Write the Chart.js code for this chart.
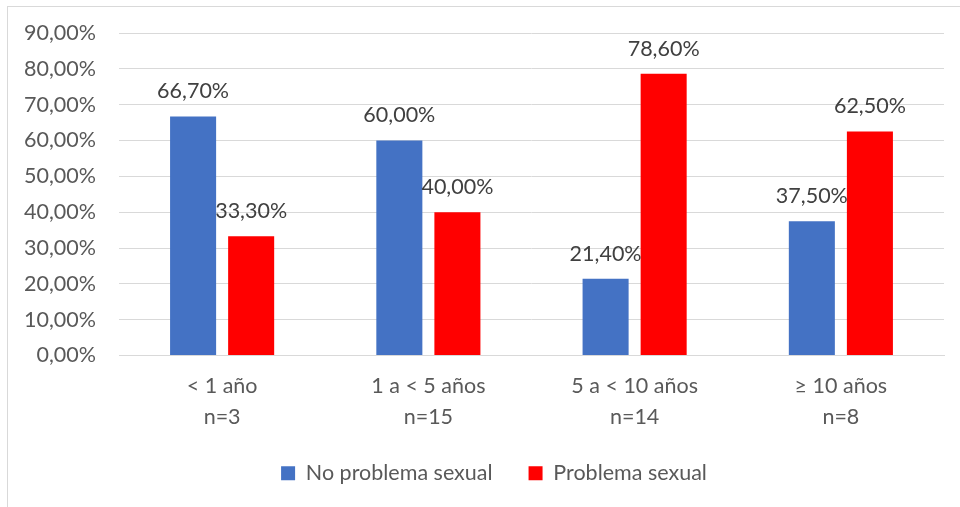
<!DOCTYPE html>
<html>
<head>
<meta charset="utf-8">
<script src="https://cdn.jsdelivr.net/npm/chart.js@4.4.1/dist/chart.umd.min.js"></script>
<style>
  html, body { margin: 0; padding: 0; background: #fff; overflow: hidden; }
  #frame {
    position: absolute; left: 7px; top: 6px;
    width: 972px; height: 510px;
    border: 1px solid #d9d9d9;
  }
  #chart { display: block; }
</style>
</head>
<body>
<div id="frame"><canvas id="chart" width="972" height="501"></canvas></div>
<script>
const categories = [["< 1 año", "n=3"], ["1 a < 5 años", "n=15"], ["5 a < 10 años", "n=14"], ["≥ 10 años", "n=8"]];
const seriesNames = ["No problema sexual", "Problema sexual"];
const noProblema = [66.7, 60.0, 21.4, 37.5];
const problema = [33.3, 40.0, 78.6, 62.5];
const yTicks = [0, 10, 20, 30, 40, 50, 60, 70, 80, 90];

const FONT = "Lato, 'Open Sans', sans-serif";
const SIZE = 21.5;
const fmt = (v) => v.toFixed(2).replace(".", ",") + "%";

// value labels drawn above each bar
const barLabels = {
  id: "barLabels",
  afterDatasetsDraw(chart) {
    const ctx = chart.ctx;
    ctx.save();
    ctx.font = SIZE + "px " + FONT;
    ctx.fillStyle = "#404040";
    ctx.textAlign = "center";
    ctx.textBaseline = "middle";
    chart.data.datasets.forEach((ds, i) => {
      chart.getDatasetMeta(i).data.forEach((bar, j) => {
        ctx.fillText(fmt(ds.data[j]), bar.x, bar.y - 25);
      });
    });
    ctx.restore();
  },
};

new Chart(document.getElementById("chart"), {
  type: "bar",
  data: {
    labels: categories,
    datasets: [
      { label: seriesNames[0], data: noProblema, backgroundColor: "#4472c4" },
      { label: seriesNames[1], data: problema, backgroundColor: "#ff0000" },
    ],
  },
  options: {
    responsive: false,
    animation: false,
    categoryPercentage: 0.563,
    barPercentage: 0.793,
    layout: { padding: { top: 26, right: 0, bottom: 14, left: 0 } },
    plugins: {
      legend: {
        position: "bottom",
        labels: {
          color: "#595959",
          font: { family: FONT, size: SIZE },
          boxWidth: 14,
          boxHeight: 14,
          padding: 36,
        },
      },
      tooltip: { enabled: false },
    },
    scales: {
      x: {
        grid: { display: false, drawTicks: false },
        border: { color: "#d9d9d9", width: 1 },
        ticks: {
          color: "#595959",
          font: { family: FONT, size: SIZE, lineHeight: 1.45 },
          padding: 15,
          maxRotation: 0,
          autoSkip: false,
        },
        afterFit: (scale) => { scale.height = 71; },
      },
      y: {
        min: 0,
        max: 90,
        afterBuildTicks: (scale) => { scale.ticks = yTicks.map((v) => ({ value: v })); },
        grid: { color: "#d9d9d9", lineWidth: 1, drawTicks: false },
        border: { display: false },
        ticks: {
          color: "#595959",
          font: { family: FONT, size: SIZE },
          padding: 23,
          callback: (v) => fmt(v),
        },
        afterFit: (scale) => {
          scale.width = 111;
          scale.paddingTop = 0;
          scale.paddingBottom = 0;
        },
      },
      // empty right-hand spacer so the plot stops short of the frame edge
      spacer: {
        position: "right",
        display: true,
        grid: { display: false, drawTicks: false },
        border: { display: false },
        ticks: { display: false },
        afterFit: (scale) => {
          scale.width = 36;
          scale.paddingTop = 0;
          scale.paddingBottom = 0;
        },
      },
    },
  },
  plugins: [barLabels],
});
</script>
</body>
</html>
